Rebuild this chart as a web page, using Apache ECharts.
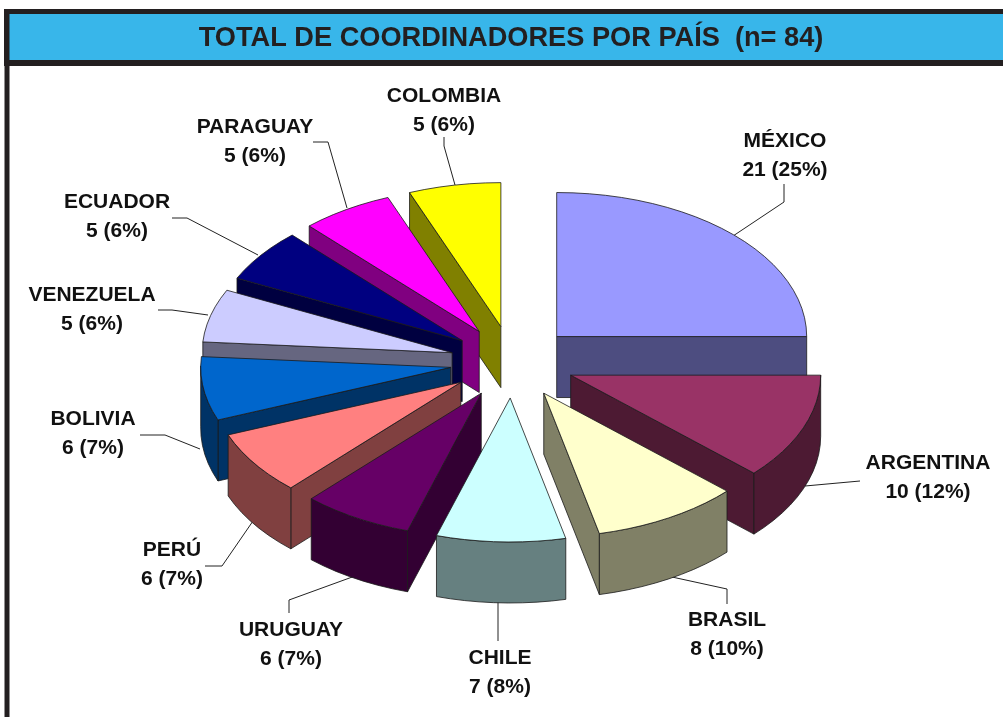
<!DOCTYPE html>
<html>
<head>
<meta charset="utf-8">
<style>html,body{margin:0;padding:0;background:#fff}#c{width:1003px;height:717px}</style>
<script src="https://cdn.jsdelivr.net/npm/echarts@6/dist/echarts.min.js"></script>
</head>
<body>
<div id="c"></div>
<script>
const titleText = 'TOTAL DE COORDINADORES POR PAÍS  (n= 84)';
const categories = ['MÉXICO','ARGENTINA','BRASIL','CHILE','URUGUAY','PERÚ','BOLIVIA','VENEZUELA','ECUADOR','PARAGUAY','COLOMBIA'];
const values = [21,10,8,7,6,6,6,5,5,5,5];
const topColors = ['#9999FF','#993366','#FFFFCC','#CCFFFF','#660066','#FF8080','#0066CC','#CCCCFF','#000080','#FF00FF','#FFFF00'];
const wallColors = ['#4D4D80','#4D1A33','#808066','#668080','#330033','#804040','#003366','#666680','#000040','#800080','#808000'];

// label centres and leader lines (layout, not data)
const labelCenters = [[785,156],[928,478],[727,635],[500,673],[291,645],[172,565],[93,434],[92,310],[117,217],[255,142],[444,111]];
const leaderLines = [
  [[733,236],[784,202],[784,184]],
  [[805,486],[860,481]],
  [[672,577],[727,589],[727,604]],
  [[498,601],[498,641]],
  [[355,576],[289,600],[289,613]],
  [[253,521],[222,566],[205,566]],
  [[200,449],[165,435],[140,435]],
  [[208,315],[172,310],[158,310]],
  [[258,255],[187,218],[172,218]],
  [[347,208],[328,142],[313,142]],
  [[455,185],[444,146],[444,137]]
];
const pie = {cx:512.5, cy:362, rx:250, ry:144, explode:0.25, depth:61, steps:48};

const total = values.reduce((a,b)=>a+b,0);
const slices = [];
let acc = 0;
values.forEach((v,i)=>{
  const a0 = acc/total*2*Math.PI; acc += v;
  const a1 = acc/total*2*Math.PI;
  slices.push({i,a0,a1,mid:(a0+a1)/2});
});
// paint from the back to the front
const drawOrder = slices.slice().sort((p,q)=>Math.cos(q.mid)-Math.cos(p.mid));
const outline = '#1a1a1a';

function wall(run, color){
  const lower = run.slice().reverse().map(p=>[p[0],p[1]+pie.depth]);
  return {type:'polygon', shape:{points:run.concat(lower)},
    style:{fill:color, stroke:outline, lineWidth:0.8}};
}
function renderSlice(params, api){
  const s = drawOrder[params.dataIndex];
  const ax = pie.cx + pie.explode*pie.rx*Math.sin(s.mid);
  const ay = pie.cy - pie.explode*pie.ry*Math.cos(s.mid);
  const arc = [];
  const n = Math.max(4, Math.ceil((s.a1-s.a0)/(2*Math.PI)*pie.steps*2));
  for(let k=0;k<=n;k++){
    const t = s.a0+(s.a1-s.a0)*k/n;
    arc.push([ax+pie.rx*Math.sin(t), ay-pie.ry*Math.cos(t)]);
  }
  const apex=[ax,ay];
  const children=[];
  const wc = wallColors[s.i];
  // walls that face the viewer are those whose clockwise edge runs leftwards
  const first = arc[0], last = arc[arc.length-1];
  if(last[0]-apex[0]>0.01) children.push(wall([last,apex],wc));
  if(apex[0]-first[0]>0.01) children.push(wall([apex,first],wc));
  let run=[];
  for(let k=0;k<arc.length-1;k++){
    if(arc[k+1][0]<arc[k][0]){
      if(!run.length) run.push(arc[k]);
      run.push(arc[k+1]);
    }else if(run.length){children.push(wall(run,wc)); run=[];}
  }
  if(run.length) children.push(wall(run,wc));
  children.push({type:'polygon', shape:{points:[apex].concat(arc)},
    style:{fill:topColors[s.i], stroke:outline, lineWidth:0.8}});
  return {type:'group', children};
}
function renderLeader(params){
  return {type:'polyline', shape:{points:leaderLines[params.dataIndex]},
    style:{fill:null, stroke:'#222', lineWidth:1}};
}
function renderLabel(params){
  const i=params.dataIndex, c=labelCenters[i];
  return {type:'text', style:{
    x:c[0], y:c[1], text:categories[i]+'\n'+values[i]+' ('+Math.round(values[i]/total*100)+'%)',
    align:'center', verticalAlign:'middle', lineHeight:29,
    font:'bold 21px "Liberation Sans", Arial, sans-serif', fill:'#111'}};
}

const chart = echarts.init(document.getElementById('c'), null, {renderer:'canvas'});
chart.setOption({
  animation:false,
  backgroundColor:'#fff',
  graphic:[
    {type:'rect', z:1, shape:{x:4,y:9,width:1003,height:57}, style:{fill:'#231F20'}},
    {type:'rect', z:2, shape:{x:9.5,y:14,width:1000,height:46}, style:{fill:'#38B6EA'}},
    {type:'rect', z:1, shape:{x:4.5,y:60,width:5,height:660}, style:{fill:'#231F20'}}
  ],
  title:{text:titleText, left:506, top:20, textAlign:'center', z:5,
    textStyle:{fontFamily:'"Liberation Sans", Arial, sans-serif', fontWeight:'bold', fontSize:27.2, color:'#231F20'}},
  series:[
    {type:'custom', coordinateSystem:'none', z:2, silent:true, renderItem:renderLeader, data:categories.map((c,i)=>[i])},
    {type:'custom', coordinateSystem:'none', z:3, silent:true, renderItem:renderSlice, data:drawOrder.map(s=>[values[s.i]])},
    {type:'custom', coordinateSystem:'none', z:4, silent:true, renderItem:renderLabel, data:categories.map((c,i)=>[values[i]])}
  ]
});
</script>
</body>
</html>
